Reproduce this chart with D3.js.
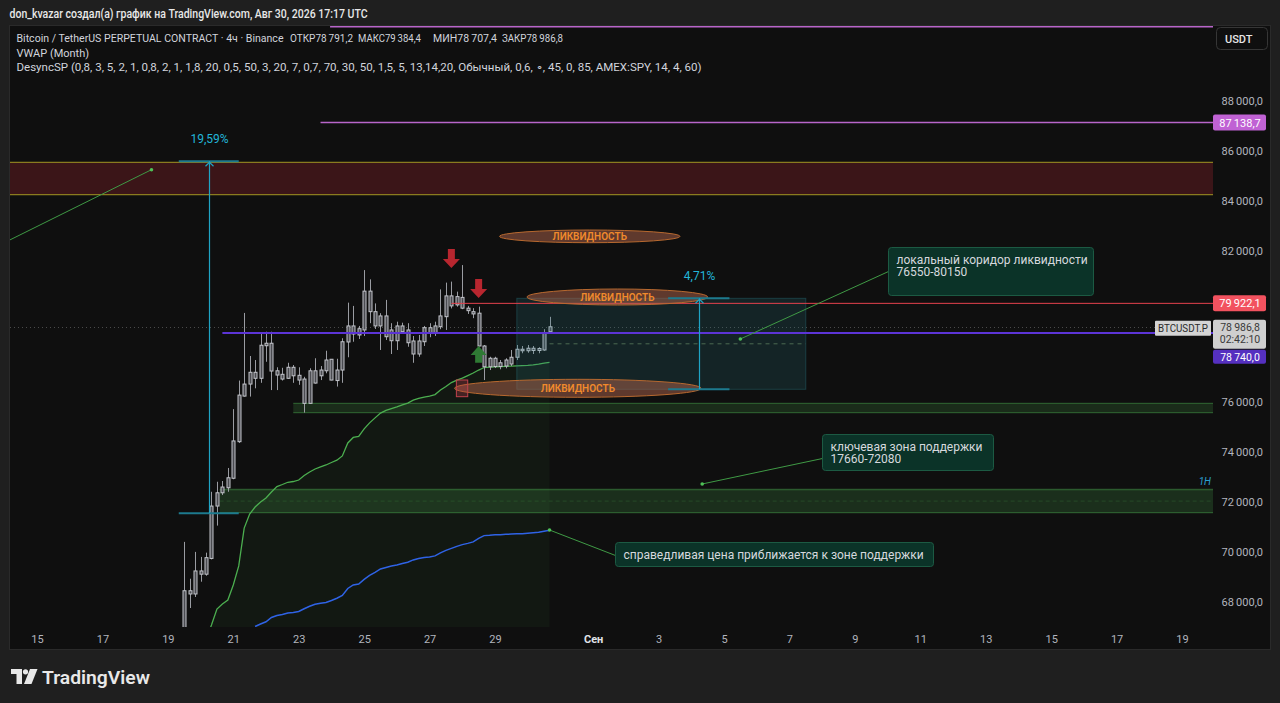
<!DOCTYPE html>
<html>
<head>
<meta charset="utf-8">
<script src="https://cdn.jsdelivr.net/npm/d3@7"></script>
<style>
html, body { margin: 0; padding: 0; background: #1f1f1f; overflow: hidden; }
svg { display: block; font-family: Roboto, "Noto Sans", sans-serif; }
</style>
</head>
<body>
<svg id="chart" width="1280" height="703"></svg>
<script>
// --- data ---
// 4h candles, first one opens 2026-08-19 12:00 UTC
const firstCandle = "2026-08-19T12:00:00Z";
const open  = [66950,68450,68320,69240,69110,69740,71830,72360,72560,72940,74400,76220,76700,77170,76930,78230,78330,77230,77090,76930,77370,77050,76900,75930,77230,77030,77230,77690,76840,77260,78380,79020,78660,78860,80410,79590,79020,79420,78430,79020,78790,78860,78420,77900,78390,78950,78750,78990,79390,80220,79860,80160,79730,79590,79530,78220,77390,77730,77400,77420,77500,77770,78090,78030,78130,78040,78060,78791.2];
const high  = [70400,68930,70000,69800,69970,72400,72800,72830,73350,75700,76840,79540,77820,77660,78700,78790,78790,77370,77350,77550,77460,77370,76990,77330,77730,77420,78030,77700,77710,78530,79950,79820,79020,81250,80880,79920,79530,80060,79130,79190,79150,79130,78620,78660,79020,79130,79190,80480,80750,80790,80390,81450,79820,79730,79790,78260,77790,77790,77660,77730,78060,78260,78220,78260,78220,78170,78890,79384.4];
const low   = [66700,67760,68200,68810,69050,69700,71050,72270,72400,72900,74350,76200,76200,76530,76750,77590,76460,76460,76840,76910,76750,76670,75560,75920,76720,76860,77130,76850,76600,76750,77770,78390,78500,78620,79130,78900,78060,78460,77900,78060,78730,78190,77550,77790,78220,78570,78620,78890,78860,79720,79790,79690,79500,79330,78210,76860,77260,77340,77290,77330,77420,77660,77930,77950,77900,77930,78030,78707.4];
const close = [68450,68320,69240,69110,69770,71830,72360,72590,72960,74430,76260,76700,77170,76930,78250,78330,77220,77060,76900,77370,77030,76860,75930,77230,76740,77260,77660,76860,77260,78390,79020,78700,78910,80410,79590,79020,79420,78590,78860,78430,79020,78350,77900,78420,78950,78750,79020,79420,80220,79820,80190,79730,79630,79500,78220,77390,77730,77400,77550,77660,77770,78090,78030,78130,78040,78120,78730,78986.8];

// green anchored line, from candle 4; blue line, from candle 13
const greenFrom = 4;
const greenLine = [66500,67080,67720,67920,68080,68680,69440,70950,71510,71790,71990,72150,72390,72610,72690,72780,72810,72870,73050,73190,73310,73390,73470,73570,73660,73830,74350,74570,74610,74910,75150,75350,75540,75650,75720,75790,75870,75940,76060,76130,76180,76220,76280,76460,76600,76760,76860,76940,77040,77140,77260,77360,77380,77390,77400,77410,77420,77430,77440,77450,77470,77500,77540,77570];
const blueFrom = 13;
const blueLine = [67020,67120,67210,67380,67460,67500,67560,67580,67620,67730,67830,67910,67950,67980,68060,68150,68260,68540,68680,68720,68900,69060,69180,69320,69380,69440,69480,69540,69590,69680,69740,69780,69800,69840,69960,70060,70140,70220,70290,70340,70400,70540,70650,70660,70680,70680,70700,70710,70720,70720,70740,70760,70780,70820,70860];

const priceTicks = [68000,70000,72000,74000,76000,78000,80000,82000,84000,86000,88000];
const dayTicks = ["2026-08-15","2026-08-17","2026-08-19","2026-08-21","2026-08-23","2026-08-25","2026-08-27","2026-08-29",
                  "2026-09-01","2026-09-03","2026-09-05","2026-09-07","2026-09-09","2026-09-11","2026-09-13","2026-09-15","2026-09-17","2026-09-19"];

// price levels (price, start time)
const levelTop = [90970, "2026-08-23T23:00:00Z"];
const level87 = [87138.7, "2026-08-23T16:00:00Z"];
const levelRed = [79922.1, "2026-08-27T16:00:00Z"];
const levelVwap = [78740.0, "2026-08-20T16:00:00Z"];

// zones [low, high, start time]
const zoneResist = [84260, 85553, "2026-08-14T00:00:00Z"];
const zoneSupSmall = [75557, 75932, "2026-08-22T20:00:00Z"];
const zoneSupBig = [71565, 72491, "2026-08-20T14:00:00Z"];

// measure tools [t start, t mid, t end, price low, price high, percent]
const measures = [
  ["2026-08-19T08:00:00Z", "2026-08-20T06:00:00Z", "2026-08-21T04:00:00Z", 71541, 85593, 19.59],
  ["2026-09-03T07:00:00Z", "2026-09-04T06:00:00Z", "2026-09-05T04:00:00Z", 76491, 80124, 4.71]
];
// liquidity corridor box [t1, t2, p low, p high]
const corridor = ["2026-08-29T16:00:00Z", "2026-09-07T12:00:00Z", 76491, 80124];

// liquidity ellipses [t1, t2, p low, p high]
const ellipses = [
  ["2026-08-29T03:20:00Z", "2026-09-03T15:40:00Z", 82343, 82850],
  ["2026-08-29T23:30:00Z", "2026-09-04T12:00:00Z", 79856, 80495],
  ["2026-08-27T18:20:00Z", "2026-09-04T07:10:00Z", 76172, 76890]
];

// arrows [time, tail price, tip price]
const downArrows = [["2026-08-27T16:00:00Z", 82092, 81333], ["2026-08-28T12:00:00Z", 80894, 80136]];
const upArrows = [["2026-08-28T12:00:00Z", 77553, 78220]];
const redBox = ["2026-08-27T19:40:00Z", "2026-08-28T04:00:00Z", 76196, 76862];

// callouts: [box time, box price, dot time, dot price, lines]
const notes = [
  ["2026-09-10T00:00:00Z", 82172, "2026-09-05T12:00:00Z", 78499, ["локальный коридор ликвидности", "76550-80150"]],
  ["2026-09-08T00:00:00Z", 74707, "2026-09-04T08:00:00Z", 72711, ["ключевая зона поддержки", "17660-72080"]],
  ["2026-09-01T16:00:00Z", 70395, "2026-08-30T16:00:00Z", 70874, ["справедливая цена приближается к зоне поддержки"]]
];
const leftLink = ["2026-08-14T04:00:00Z", 82451, "2026-08-18T12:00:00Z", 85258];

// --- setup ---
const plot = {l: 10, r: 1213, t: 27, b: 627};
const H4 = 4 * 3600 * 1000;
const t0 = new Date(firstCandle).getTime();
const tm = i => new Date(t0 + i * H4);
const dt = s => new Date(s);

const x = d3.scaleUtc()
  .domain([dt("2026-08-15T00:00:00Z"), dt("2026-09-19T00:00:00Z")])
  .range([37, 1182]);
const y = d3.scaleLinear().domain([68000, 88000]).range([602, 101]);

const ru = d3.formatLocale({decimal: ",", thousands: "\u2009", grouping: [3], currency: ["", ""]});
const fmtP = ru.format(",.1f");
const fmtPct = ru.format(".2f");

const svg = d3.select("#chart");

svg.append("rect").attr("width", 1280).attr("height", 703).attr("fill", "#1f1f1f");
svg.append("rect").attr("x", 9.5).attr("y", 25.5).attr("width", 1261).attr("height", 624)
  .attr("fill", "#0f0f0f").attr("stroke", "#2a2a2a");

svg.append("defs").append("clipPath").attr("id", "clip")
  .append("rect").attr("x", plot.l).attr("y", plot.t - 1)
  .attr("width", plot.r - plot.l).attr("height", plot.b - plot.t + 1);

const g = svg.append("g").attr("clip-path", "url(#clip)");

// zones
function zone(z, fill, stroke) {
  const x0 = Math.max(plot.l, x(dt(z[2])));
  g.append("rect").attr("x", x0).attr("y", y(z[1]))
    .attr("width", plot.r - x0).attr("height", y(z[0]) - y(z[1]))
    .attr("fill", fill);
  [z[0], z[1]].forEach(p => {
    g.append("line").attr("x1", x0).attr("x2", plot.r).attr("y1", y(p)).attr("y2", y(p))
      .attr("stroke", stroke).attr("stroke-width", 1.3);
  });
  return x0;
}
zone(zoneResist, "rgba(190,40,50,0.25)", "#8a7b1f");
let xs = zone(zoneSupSmall, "rgba(76,175,80,0.18)", "rgba(76,175,80,0.4)");
xs = zone(zoneSupBig, "rgba(76,175,80,0.2)", "rgba(76,175,80,0.42)");
g.append("line").attr("x1", xs).attr("x2", plot.r)
  .attr("y1", y((zoneSupBig[0] + zoneSupBig[1]) / 2)).attr("y2", y((zoneSupBig[0] + zoneSupBig[1]) / 2))
  .attr("stroke", "rgba(76,175,80,0.22)").attr("stroke-dasharray", "4,3");

// shaded area under the green line
const greenPts = greenLine.map((v, k) => ({t: tm(greenFrom + k), v: v}));
const bluePts = blueLine.map((v, k) => ({t: tm(blueFrom + k), v: v}));
g.append("path").datum(greenPts)
  .attr("d", d3.area().x(d => x(d.t)).y0(plot.b).y1(d => y(d.v)))
  .attr("fill", "rgba(70,150,70,0.07)");

const ln = d3.line().x(d => x(d.t)).y(d => y(d.v));
g.append("path").datum(greenPts).attr("d", ln).attr("fill", "none")
  .attr("stroke", "#4caf50").attr("stroke-width", 1.3);
g.append("path").datum(bluePts).attr("d", ln).attr("fill", "none")
  .attr("stroke", "#2f63e6").attr("stroke-width", 1.5);

// current price dotted line
const last = close.length - 1;
g.append("line").attr("x1", plot.l).attr("x2", plot.r)
  .attr("y1", Math.round(y(close[last])) + 0.5).attr("y2", Math.round(y(close[last])) + 0.5)
  .attr("stroke", "#4a4a4a").attr("stroke-dasharray", "1,3");

// candles
const cg = g.append("g");
open.forEach((o, i) => {
  const cx = Math.round(x(tm(i))) + 0.5;
  const c = close[i];
  const top = y(Math.max(o, c)), bot = y(Math.min(o, c));
  cg.append("line").attr("x1", cx).attr("x2", cx).attr("y1", y(high[i])).attr("y2", y(low[i]))
    .attr("stroke", "#9a9ca2");
  cg.append("rect").attr("x", cx - 1.5).attr("y", top).attr("width", 3)
    .attr("height", Math.max(1, bot - top))
    .attr("fill", "#4a4b50").attr("stroke", "#c3c5cb").attr("stroke-width", 1);
});

// liquidity corridor
g.append("rect").attr("x", x(dt(corridor[0]))).attr("y", y(corridor[3]))
  .attr("width", x(dt(corridor[1])) - x(dt(corridor[0]))).attr("height", y(corridor[2]) - y(corridor[3]))
  .attr("fill", "rgba(40,120,130,0.2)").attr("stroke", "rgba(45,130,140,0.35)");
g.append("line").attr("x1", x(tm(last))).attr("x2", x(dt(corridor[1])))
  .attr("y1", y((corridor[2] + corridor[3]) / 2)).attr("y2", y((corridor[2] + corridor[3]) / 2))
  .attr("stroke", "#4b6a52").attr("stroke-dasharray", "4,4");

// horizontal levels
function level(lv, color, width) {
  const yy = y(lv[0]);
  g.append("line").attr("x1", x(dt(lv[1]))).attr("x2", plot.r).attr("y1", yy).attr("y2", yy)
    .attr("stroke", color).attr("stroke-width", width);
}
level(levelTop, "#b865c9", 2);
level(level87, "#b865c9", 1.5);
level(levelRed, "#e5414d", 1);
level(levelVwap, "#5c34d6", 2);

// ellipses
ellipses.forEach(e => {
  const x1 = x(dt(e[0])), x2 = x(dt(e[1]));
  const y1 = y(e[3]), y2 = y(e[2]);
  g.append("ellipse").attr("cx", (x1 + x2) / 2).attr("cy", (y1 + y2) / 2)
    .attr("rx", (x2 - x1) / 2).attr("ry", (y2 - y1) / 2)
    .attr("fill", "rgba(175,100,75,0.5)").attr("stroke", "#b8692f").attr("stroke-width", 1);
  g.append("text").attr("x", (x1 + x2) / 2).attr("y", (y1 + y2) / 2 + 3.5)
    .attr("text-anchor", "middle").attr("font-size", 10).attr("font-weight", 600)
    .attr("fill", "#f08a2c").text("ЛИКВИДНОСТЬ");
});

// measure tools
measures.forEach(m => {
  const xa = x(dt(m[0])), xm = Math.round(x(dt(m[1]))) + 0.5, xb = x(dt(m[2]));
  const yl = y(m[3]), yh = y(m[4]);
  [yl, yh].forEach(yy => {
    g.append("line").attr("x1", xa).attr("x2", xb).attr("y1", yy).attr("y2", yy)
      .attr("stroke", "#1d7a8e").attr("stroke-width", 2);
  });
  g.append("line").attr("x1", xm).attr("x2", xm).attr("y1", yh).attr("y2", yl)
    .attr("stroke", "#1fa3c4").attr("stroke-width", 1.2);
  g.append("path").attr("d", `M${xm - 4},${yh + 5}L${xm},${yh + 1}L${xm + 4},${yh + 5}`)
    .attr("fill", "none").attr("stroke", "#1fa3c4").attr("stroke-width", 1.2);
  g.append("text").attr("x", xm).attr("y", yh - 18).attr("text-anchor", "middle")
    .attr("font-size", 12).attr("fill", "#22b5d8").text(fmtPct(m[5]) + "%");
});

// arrows
downArrows.forEach(a => {
  const cx = x(dt(a[0])), yt = y(a[1]), yp = y(a[2]);
  const hb = yp - 9;
  g.append("path")
    .attr("d", `M${cx - 3.5},${yt}L${cx + 3.5},${yt}L${cx + 3.5},${hb}L${cx + 8.5},${hb}L${cx},${yp}L${cx - 8.5},${hb}L${cx - 3.5},${hb}Z`)
    .attr("fill", "#b8262f");
});
upArrows.forEach(a => {
  const cx = x(dt(a[0])), yt = y(a[1]), yp = y(a[2]);
  const hb = yp + 9;
  g.append("path")
    .attr("d", `M${cx - 3.5},${yt}L${cx + 3.5},${yt}L${cx + 3.5},${hb}L${cx + 8},${hb}L${cx},${yp}L${cx - 8},${hb}L${cx - 3.5},${hb}Z`)
    .attr("fill", "#2f7a34");
});
g.append("rect").attr("x", x(dt(redBox[0]))).attr("y", y(redBox[3]))
  .attr("width", x(dt(redBox[1])) - x(dt(redBox[0]))).attr("height", y(redBox[2]) - y(redBox[3]))
  .attr("fill", "rgba(190,60,75,0.3)").attr("stroke", "#c0424c");

// callouts
const noteSize = [[205, 48], [171, 36], [318, 24]];
function link(x1, y1, x2, y2) {
  g.append("line").attr("x1", x1).attr("y1", y1).attr("x2", x2).attr("y2", y2)
    .attr("stroke", "#3f9a45").attr("stroke-width", 1);
  g.append("circle").attr("cx", x1).attr("cy", y1).attr("r", 1.8).attr("fill", "#4fc157");
}
notes.forEach((n, k) => {
  const bx = Math.round(x(dt(n[0]))) + 0.5, by = Math.round(y(n[1])) + 0.5;
  const w = noteSize[k][0], h = noteSize[k][1];
  link(x(dt(n[2])), y(n[3]), bx, by + (n[4].length === 1 ? h / 2 + 1 : 24));
  g.append("rect").attr("x", bx).attr("y", by).attr("width", w).attr("height", h).attr("rx", 3)
    .attr("fill", "#0b3328").attr("stroke", "#1c5a43");
  n[4].forEach((s, j) => {
    g.append("text").attr("x", bx + 8).attr("y", by + 16 + j * 12.5)
      .attr("font-size", 12).attr("fill", "#d6d9de").text(s);
  });
});
link(x(dt(leftLink[2])), y(leftLink[3]), x(dt(leftLink[0])), y(leftLink[1]));

g.append("text").attr("x", plot.r - 2).attr("y", 485).attr("text-anchor", "end")
  .attr("font-size", 10).attr("font-style", "italic").attr("fill", "#2a9fcf").text("1H");

// --- price tag positions (tags hide the axis labels they cover) ---
const y87 = y(level87[0]), yRed = y(levelRed[0]), yCur = y(close[last]);
const tagSpans = [[y87 - 8, y87 + 8], [yRed - 8, yRed + 8], [yCur - 7, yCur + 37]];
const freeTicks = priceTicks.filter(p => !tagSpans.some(s => y(p) > s[0] - 6 && y(p) < s[1] + 6));

// --- axes ---
const ya = svg.append("g").attr("transform", "translate(1263,0)")
  .call(d3.axisRight(y).tickValues(freeTicks).tickSize(0).tickFormat(fmtP));
ya.select(".domain").remove();
ya.selectAll("text").attr("x", 0).attr("text-anchor", "end")
  .attr("font-size", 11).attr("fill", "#b2b5be").attr("font-family", "Roboto, sans-serif");

const xa = svg.append("g").attr("transform", "translate(0,632)")
  .call(d3.axisBottom(x).tickValues(dayTicks.map(d => dt(d + "T00:00:00Z"))).tickSize(0)
    .tickFormat(d => d.getUTCDate() === 1 ? "Сен" : d.getUTCDate()));
xa.select(".domain").remove();
xa.selectAll("text").attr("font-size", 11).attr("font-family", "Roboto, sans-serif")
  .attr("fill", d => d.getUTCDate() === 1 ? "#e0e3e8" : "#b2b5be")
  .attr("font-weight", d => d.getUTCDate() === 1 ? 700 : 400);

// axis price tags: box top, box height, baselines
function tag(top, h, bg, fg, lines, bases, size) {
  svg.append("rect").attr("x", 1213).attr("y", top).attr("width", 53).attr("height", h)
    .attr("rx", 2).attr("fill", bg);
  lines.forEach((s, j) => {
    svg.append("text").attr("x", 1240).attr("y", bases[j])
      .attr("text-anchor", "middle").attr("font-size", size).attr("fill", fg).text(s);
  });
}
tag(y87 - 8, 16, "#c062d4", "#ffffff", [fmtP(level87[0])], [y87 + 4], 11);
tag(yRed - 8, 16, "#f2525f", "#ffffff", [fmtP(levelRed[0])], [yRed + 4], 11);
tag(yCur - 7, 29, "#cfcfcf", "#3a3a3a", [fmtP(close[last]), "02:42:10"], [yCur + 4, yCur + 16], 10.5);
tag(yCur + 23, 14, "#5530c0", "#ffffff", [fmtP(levelVwap[0])], [yCur + 34], 10.5);

svg.append("rect").attr("x", 1155).attr("y", yCur - 6).attr("width", 56).attr("height", 15)
  .attr("rx", 1).attr("fill", "#d4d4d4");
svg.append("text").attr("x", 1158).attr("y", yCur + 5)
  .attr("font-size", 10.5).attr("fill", "#2a2a2a")
  .attr("textLength", 50).attr("lengthAdjust", "spacingAndGlyphs").text("BTCUSDT.P");

// currency button
svg.append("rect").attr("x", 1216.5).attr("y", 27.5).attr("width", 51).attr("height", 22).attr("rx", 4)
  .attr("fill", "#0f0f0f").attr("stroke", "#363636");
svg.append("text").attr("x", 1225).attr("y", 43).attr("font-size", 11).attr("font-weight", 500)
  .attr("fill", "#e6e6e6").text("USDT");

// --- header texts ---
svg.append("text").attr("x", 9.5).attr("y", 18).attr("font-size", 12).attr("font-weight", 500)
  .attr("fill", "#e8e8e8").attr("textLength", 358).attr("lengthAdjust", "spacingAndGlyphs")
  .text("don_kvazar создал(а) график на TradingView.com, Авг 30, 2026 17:17 UTC");

const legend = svg.append("g").attr("font-size", 11).attr("fill", "#d1d4dc");
legend.append("text").attr("x", 16.5).attr("y", 41.5).attr("textLength", 267).attr("lengthAdjust", "spacingAndGlyphs")
  .text("Bitcoin / TetherUS PERPETUAL CONTRACT · 4ч · Binance");
[["ОТКР", open[last], 290, 63], ["МАКС", high[last], 358, 63], ["МИН", low[last], 433, 64], ["ЗАКР", close[last], 502, 61]]
  .forEach(p => {
    legend.append("text").attr("x", p[2]).attr("y", 41.5).attr("textLength", p[3]).attr("lengthAdjust", "spacingAndGlyphs")
      .text(p[0] + fmtP(p[1]));
  });
legend.append("text").attr("x", 16.5).attr("y", 56.5).text("VWAP (Month)");
legend.append("text").attr("x", 16.5).attr("y", 71).attr("textLength", 685).attr("lengthAdjust", "spacingAndGlyphs")
  .text("DesyncSP (0,8, 3, 5, 2, 1, 0,8, 2, 1, 1,8, 20, 0,5, 50, 3, 20, 7, 0,7, 70, 30, 50, 1,5, 5, 13,14,20, Обычный, 0,6, ∘, 45, 0, 85, AMEX:SPY, 14, 4, 60)");

// --- TradingView logo ---
const logo = svg.append("g").attr("fill", "#e8e8e8");
logo.append("path").attr("d", "M11,669H22V684H16.5V674H11Z");
logo.append("circle").attr("cx", 25.5).attr("cy", 671.8).attr("r", 2.6);
logo.append("path").attr("d", "M30,669H37.5L31.5,684H24Z");
logo.append("text").attr("x", 42).attr("y", 683.5).attr("font-size", 18.5).attr("font-weight", 600)
  .attr("textLength", 108).attr("lengthAdjust", "spacingAndGlyphs").text("TradingView");
</script>
</body>
</html>
